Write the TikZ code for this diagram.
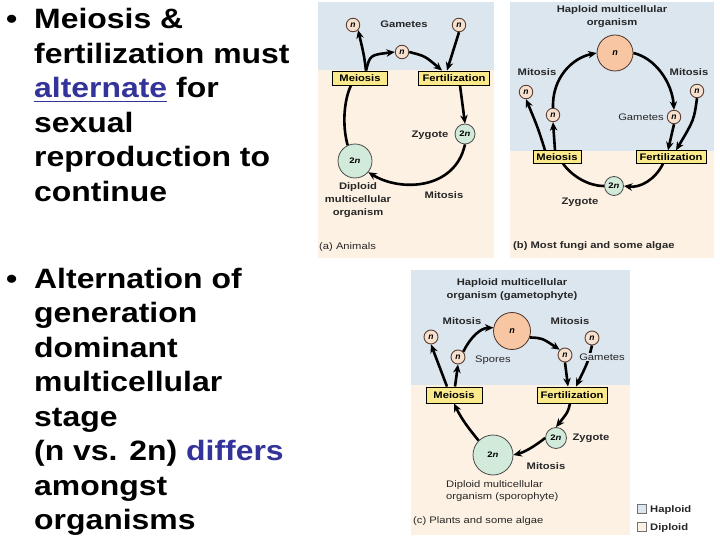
\documentclass[tikz,border=0pt]{standalone}
\usepackage{fontspec}
\setmainfont{Liberation Sans}
\newfontfamily\bigf{Liberation Sans}[FakeStretch=1.14]
\newfontfamily\smf{Liberation Sans}[FakeStretch=1.18]
\usetikzlibrary{arrows.meta}
\definecolor{hap}{HTML}{DCE6EF}
\definecolor{dip}{HTML}{FDF1E3}
\definecolor{boxy}{HTML}{FBEA8C}
\definecolor{nfill}{HTML}{F6E0CE}
\definecolor{nedge}{HTML}{5E4034}
\definecolor{bign}{HTML}{F8C6A2}
\definecolor{twon}{HTML}{D2EADA}
\definecolor{linkc}{HTML}{333399}
\newcommand\myul[1]{\setbox0\hbox{#1}\rlap{\rule[-4.5pt]{\wd0}{1.8pt}}\box0}
\tikzset{
 bl/.style={anchor=base west, inner sep=0, font=\bigf\bfseries\fontsize{28}{34}\selectfont},
 lab/.style={inner sep=0, font=\smf\bfseries\fontsize{9.5}{13}\selectfont, text=black!85},
 labr/.style={inner sep=0, font=\smf\fontsize{9.5}{12.5}\selectfont, text=black!85},
 stagebox/.style={draw=black, line width=0.9pt, fill=boxy, inner xsep=1pt, inner ysep=0pt, font=\smf\bfseries\fontsize{9.5}{11}\selectfont},
 ncell/.style={circle, draw=nedge, line width=0.9pt, fill=nfill, minimum size=13.5pt, inner sep=0, font=\bfseries\itshape\fontsize{8.5}{9}\selectfont},
 bigcell/.style={circle, draw=nedge!80!black, line width=0.8pt, fill=bign, minimum size=#1, inner sep=0, font=\bfseries\itshape\fontsize{9}{9}\selectfont},
 dipcell/.style={circle, draw=black!70, line width=0.8pt, fill=twon, minimum size=#1, inner sep=0, font=\smf\bfseries\fontsize{8}{9}\selectfont},
 arr/.style={line width=2.6pt, -{Stealth[length=8.5pt,width=7.5pt]}},
 ln/.style={line width=2.6pt},
}
\begin{document}
\begin{tikzpicture}[x=1pt,y=-1pt]
\useasboundingbox (0,0) rectangle (720,540);
\fill[white] (0,0) rectangle (720,540);
% backgrounds
\fill[hap] (318,2) rectangle (494,70);
\fill[dip] (318,70) rectangle (494,258);
\fill[hap] (510,2) rectangle (714,151);
\fill[dip] (510,151) rectangle (714,258);
\fill[hap] (411,270) rectangle (630,385);
\fill[dip] (411,385) rectangle (630,535);

% left text
\node[bl] (b1) at (6,29) {\textbullet};
\node[bl] (t1) at (34,29) {Meiosis \&};
\node[bl] (t2) at (34,63.5) {fertilization must};
\node[bl] (t3) at (34,98) {{\color{linkc}\myul{alternate}} for};
\node[bl] (t4) at (34,132.5) {sexual};
\node[bl] (t5) at (34,167) {reproduction to};
\node[bl] (t6) at (34,201.5) {continue};
\node[bl] (b2) at (6,288) {\textbullet};
\node[bl] (u1) at (34,288) {Alternation of};
\node[bl] (u2) at (34,322.5) {generation};
\node[bl] (u3) at (34,357) {dominant};
\node[bl] (u4) at (34,391.5) {multicellular};
\node[bl] (u5) at (34,426) {stage};
\node[bl] (u6) at (34,460.5) {(n vs. 2n) \textcolor{linkc}{differs}};
\node[bl] (u7) at (34,495) {amongst};
\node[bl] (u8) at (34,529.5) {organisms};

% panel (a)
\node[ncell] (an1) at (353,25) {n};
\node[ncell] (an2) at (459,25) {n};
\node[ncell] (an3) at (402,52) {n};
\node[lab] (agam) at (404,24) {Gametes};
\node[stagebox, minimum width=55pt, minimum height=14pt] (amei) at (360,78) {Meiosis};
\node[stagebox, minimum width=71pt, minimum height=14pt] (afer) at (454,78) {Fertilization};
\node[dipcell=20pt] (azyg) at (465,134) {2\textit{n}};
\node[lab] (azt) at (430,135) {Zygote};
\node[dipcell=34pt] (adip) at (355,161) {2\textit{n}};
\node[lab, align=center] (adt) at (358,200) {Diploid\\multicellular\\organism};
\node[lab] (amit) at (444,195) {Mitosis};
\node[labr, anchor=west] (acap) at (319,247) {(a) Animals};

\draw[arr] ([xshift=6pt]amei.north) .. controls (364,55) .. (an1.south east);
\draw[arr] ([xshift=6pt]amei.north) .. controls (370,55) .. (an3.west);
\draw[arr] (an3.east) .. controls (425,56) .. ([xshift=-12pt]afer.north);
\draw[arr] (an2.south) -- ([xshift=-7pt]afer.north);
\draw[arr] ([xshift=6pt]afer.south) -- (azyg.north);
\draw[arr] (azyg.south) .. controls (455,190) and (400,192) .. (adip.-40);
\draw[ln] ([xshift=-9pt]amei.south) .. controls (344,100) and (342,125) .. (adip.115);

% panel (b)
\node[lab, align=center] (btit) at (612,17) {Haploid multicellular\\organism};
\node[bigcell=36pt] (bbig) at (615,53) {n};
\node[lab] (bmit1) at (537,72) {Mitosis};
\node[lab] (bmit2) at (689,72) {Mitosis};
\node[ncell] (bn1) at (526,92) {n};
\node[ncell] (bn2) at (553,115) {n};
\node[ncell] (bn3) at (674,117) {n};
\node[ncell] (bn4) at (697,91) {n};
\node[labr] (bgam) at (641,117) {Gametes};
\node[stagebox, minimum width=48pt, minimum height=12.5pt] (bmei) at (557,157) {Meiosis};
\node[stagebox, minimum width=70pt, minimum height=12.5pt] (bfer) at (671,157) {Fertilization};
\node[dipcell=19pt] (bzyg) at (614,186) {2\textit{n}};
\node[lab] (bzt) at (580,202) {Zygote};
\node[lab, anchor=west] (bcap) at (513,246) {(b) Most fungi and some algae};

\draw[arr] ([xshift=-12pt]bmei.north) .. controls (538,128) .. (bn1.south);
\draw[arr] ([xshift=-2pt]bmei.north) -- (bn2.south);
\draw[arr] (bn2.north) .. controls (552,78) and (572,58) .. (bbig.west);
\draw[arr] (bbig.east) .. controls (655,58) and (672,82) .. (bn3.north);
\draw[arr] (bn3.south) -- ([xshift=-3pt]bfer.north);
\draw[arr] (bn4.south) .. controls (694,120) .. ([xshift=5pt]bfer.north);
\draw[arr] ([xshift=-8pt]bfer.south) .. controls (655,180) and (640,188) .. (bzyg.east);
\draw[ln] (bzyg.west) .. controls (588,186) and (572,176) .. ([xshift=6pt]bmei.south);

% panel (c)
\node[lab, align=center] (ctit) at (512,289.5) {Haploid multicellular\\organism (gametophyte)};
\node[bigcell=37pt] (cbig) at (512,331) {n};
\node[lab] (cmit1) at (462,321) {Mitosis};
\node[lab] (cmit2) at (570,321) {Mitosis};
\node[ncell, minimum size=14pt] (cn1) at (431,337) {n};
\node[ncell, minimum size=14pt] (cn2) at (458,357) {n};
\node[ncell, minimum size=14pt] (cn3) at (565,355) {n};
\node[ncell, minimum size=14pt] (cn4) at (592,338) {n};
\node[labr] (cspo) at (493,360) {Spores};
\node[stagebox, minimum width=56pt, minimum height=16pt] (cmei) at (454,395) {Meiosis};
\node[stagebox, minimum width=70pt, minimum height=16pt] (cfer) at (572,395) {Fertilization};
\node[dipcell=21pt] (czyg) at (556,438) {2\textit{n}};
\node[lab] (czt) at (591,438) {Zygote};
\node[dipcell=40pt] (cdip) at (493,455) {2\textit{n}};
\node[lab] (cmit3) at (546,466) {Mitosis};
\node[labr, align=left, anchor=west] (cdt) at (446,491) {Diploid multicellular\\organism (sporophyte)};
\node[labr, anchor=west] (ccap) at (413,521) {(c) Plants and some algae};

\draw[arr] ([xshift=-7pt]cmei.north) -- (cn1.south);
\draw[arr] ([xshift=1pt]cmei.north) -- (cn2.south);
\draw[arr] (cn2.north east) .. controls (470,338) and (480,328) .. (cbig.170);
\draw[arr] (cbig.-20) .. controls (542,338) .. (cn3.north west);
\draw[arr] (cn3.south) -- ([xshift=-4pt]cfer.north);
\draw[arr] (cn4.south) .. controls (588,362) .. ([xshift=4pt]cfer.north);
\draw[arr] ([xshift=-2pt]cfer.south) .. controls (568,412) .. (czyg.north);
\draw[arr] (czyg.west) .. controls (535,446) and (525,452) .. (cdip.east);
\draw[arr] (cdip.135) .. controls (470,430) and (462,420) .. (cmei.south);
\node[labr, fill=hap, inner xsep=1pt, inner ysep=0.5pt] (cgam) at (602,357) {Gametes};

% legend
\node[draw=black!55, fill=hap, minimum size=9pt, inner sep=0] (lh) at (642,509) {};
\node[draw=black!55, fill=dip, minimum size=9pt, inner sep=0] (ld) at (642,527) {};
\node[lab, anchor=west] (lht) at (650,510) {Haploid};
\node[lab, anchor=west] (ldt) at (650,528) {Diploid};
\end{tikzpicture}
\end{document}
